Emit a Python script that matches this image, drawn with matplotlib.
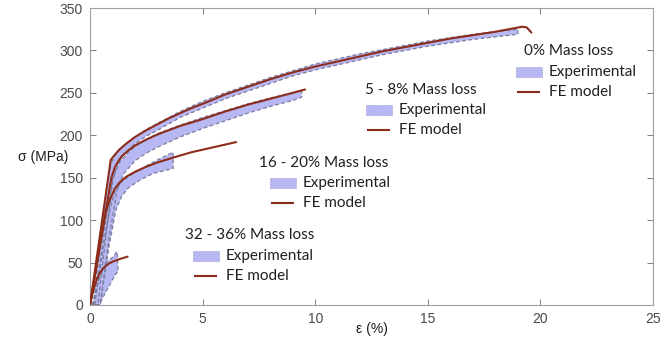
import matplotlib
matplotlib.use("Agg")
import matplotlib.pyplot as plt
from matplotlib.patches import Rectangle
from matplotlib.lines import Line2D

# ---------------- data ----------------
# FE model curves (strain %, stress MPa)
fe0_x = [0, 0.92, 1.1, 1.3, 1.6, 2.0, 2.5, 3.0, 3.5, 4.0, 4.5, 5.0, 6.0, 7.0, 8.0, 9.0,
         10.0, 11.0, 12.0, 13.0, 14.0, 15.0, 16.0, 17.0, 18.0, 18.8, 19.2, 19.4, 19.6]
fe0_y = [0, 171, 177, 183, 190, 198, 206, 213, 220, 226, 232, 237, 248, 257, 266, 274,
         281, 287, 293, 299, 304, 309, 314, 318, 322, 326, 328, 327, 321]

fe5_x = [0, 0.95, 1.1, 1.25, 1.4, 1.7, 2.0, 2.5, 3.0, 3.5, 4.0, 5.0, 6.0, 7.0, 8.0, 9.0, 9.55]
fe5_y = [0, 150, 162, 169, 175, 182, 188, 195, 201, 206, 211, 219, 228, 236, 243, 250, 254]

fe16_x = [0, 0.7, 0.9, 1.1, 1.3, 1.6, 2.0, 2.5, 3.0, 3.61, 4.5, 5.5, 6.49]
fe16_y = [0, 110, 125, 137, 144, 151, 157, 163, 168, 173, 180, 186, 192]

fe32_x = [0, 0.1, 0.2, 0.3, 0.4, 0.55, 0.7, 0.85, 1.0, 1.3, 1.67]
fe32_y = [0, 12, 22, 30, 36, 42, 46, 49, 51, 54, 57]

# Experimental bands: upper/left edge and lower/right edge
ex0_up_x = [0.15, 0.5, 0.8, 0.95, 1.1, 1.3, 1.6, 2.0, 2.5, 3, 4, 5, 6, 7, 8, 9, 10,
            11, 12, 13, 14, 15, 16, 17, 18, 19]
ex0_up_y = [0, 85, 150, 168, 176, 183, 190, 198, 207, 214, 228, 240, 250, 259, 268, 276, 284,
            290, 296, 301, 306, 311, 315, 319, 322, 325]
ex0_lo_x = [0.35, 0.7, 1.0, 1.2, 1.5, 2.0, 2.5, 3, 4, 5, 6, 7, 8, 9, 10,
            11, 12, 13, 14, 15, 16, 17, 18, 19]
ex0_lo_y = [0, 80, 145, 165, 178, 190, 199, 206, 221, 232, 243, 252, 261, 270, 277,
            283, 289, 295, 300, 305, 309, 313, 316, 319]

ex5_up_x = [0.2, 0.6, 1.0, 1.3, 1.7, 2.0, 2.5, 3, 4, 5, 6, 7, 8, 9, 9.4]
ex5_up_y = [0, 80, 148, 168, 180, 187, 195, 202, 212, 221, 229, 237, 244, 250, 253]
ex5_lo_x = [0.45, 0.85, 1.2, 1.5, 2.0, 2.5, 3, 4, 5, 6, 7, 8, 9, 9.4]
ex5_lo_y = [0, 80, 135, 155, 170, 179, 186, 198, 208, 217, 226, 234, 241, 245]

ex16_up_x = [0.2, 0.6, 0.9, 1.1, 1.4, 1.8, 2.5, 3.0, 3.69]
ex16_up_y = [0, 70, 115, 133, 145, 153, 164, 171, 180]
ex16_lo_x = [0.45, 0.85, 1.15, 1.4, 1.7, 2.2, 2.8, 3.69]
ex16_lo_y = [0, 70, 112, 128, 138, 147, 155, 161]

ex32_up_x = [0.1, 0.4, 0.7, 1.0, 1.2]
ex32_up_y = [0, 30, 50, 56, 63]
ex32_lo_x = [0.4, 0.8, 1.1, 1.25]
ex32_lo_y = [0, 20, 35, 40]

xticks = [0, 5, 10, 15, 20, 25]
yticks = [0, 50, 100, 150, 200, 250, 300, 350]

legend_titles = ["0% Mass loss", "5 - 8% Mass loss", "16 - 20% Mass loss", "32 - 36% Mass loss"]

# ---------------- style ----------------
W, H = 661, 345
FE_COLOR = "#8c2d1c"
BAND_FILL = "#b7b7f4"
BAND_EDGE = "#7b7b9a"
TICK_COLOR = "#4a4a4a"
LEG_FONT = ["Lato", "DejaVu Sans"]

fig = plt.figure(figsize=(W / 100, H / 100), dpi=100)
ax = fig.add_axes([90 / W, 1 - 305 / H, (653 - 90) / W, (305 - 8) / H])

def band(ux, uy, lx, ly):
    px = list(ux) + list(lx)[::-1]
    py = list(uy) + list(ly)[::-1]
    ax.fill(px, py, facecolor=BAND_FILL, edgecolor="none", zorder=2)
    ax.plot(px + [px[0]], py + [py[0]], ls=(0, (3, 2)), color=BAND_EDGE, lw=0.9, zorder=3)

band(ex0_up_x, ex0_up_y, ex0_lo_x, ex0_lo_y)
band(ex5_up_x, ex5_up_y, ex5_lo_x, ex5_lo_y)
band(ex16_up_x, ex16_up_y, ex16_lo_x, ex16_lo_y)
band(ex32_up_x, ex32_up_y, ex32_lo_x, ex32_lo_y)

for fx, fy in [(fe0_x, fe0_y), (fe5_x, fe5_y), (fe16_x, fe16_y), (fe32_x, fe32_y)]:
    ax.plot(fx, fy, color=FE_COLOR, lw=1.5, zorder=4, solid_capstyle="round",
            solid_joinstyle="round")

ax.set_xlim(0, 25)
ax.set_ylim(0, 350)
ax.set_xticks(xticks)
ax.set_yticks(yticks)
ax.tick_params(direction="in", top=True, right=True, length=4, width=0.7,
               colors="#808080", labelcolor=TICK_COLOR, labelsize=10, pad=5)
for lab in ax.get_xticklabels() + ax.get_yticklabels():
    lab.set_fontfamily(["Liberation Sans", "DejaVu Sans"])
for s in ax.spines.values():
    s.set_color("#a0a0a0")
    s.set_linewidth(0.8)

fig.text(43 / W, 1 - 157 / H, "σ (MPa)", ha="center", va="center", fontsize=10,
         color="#202020", family=["Liberation Sans", "DejaVu Sans"])
fig.text(372 / W, 1 - 329 / H, "ε (%)", ha="center", va="center", fontsize=10,
         color="#202020", family=["Liberation Sans", "DejaVu Sans"])

# legend blocks: (title x, title y, patch x, entry row y)
blocks = [(524, 51, 516, 72), (365, 90, 366, 110), (259, 163, 270, 183), (185, 235, 193, 256)]
for title, (tx, ty, bx, ey) in zip(legend_titles, blocks):
    fig.text(tx / W, 1 - ty / H, title, ha="left", va="center", fontsize=11,
             color="#202020", family=LEG_FONT)
    fig.patches.append(Rectangle((bx / W, 1 - (ey + 5) / H), 26 / W, 10 / H,
                                 transform=fig.transFigure, facecolor=BAND_FILL,
                                 edgecolor="#a8a8d8", ls=(0, (2, 1)), lw=0.6))
    fig.text((bx + 33) / W, 1 - ey / H, "Experimental", ha="left", va="center",
             fontsize=11, color="#202020", family=LEG_FONT)
    fy = ey + 20
    fig.lines.append(Line2D([(bx + 2) / W, (bx + 23) / W], [1 - fy / H, 1 - fy / H],
                            transform=fig.transFigure, color=FE_COLOR, lw=1.5))
    fig.text((bx + 33) / W, 1 - fy / H, "FE model", ha="left", va="center",
             fontsize=11, color="#202020", family=LEG_FONT)

fig.savefig("out.png", dpi=100)
